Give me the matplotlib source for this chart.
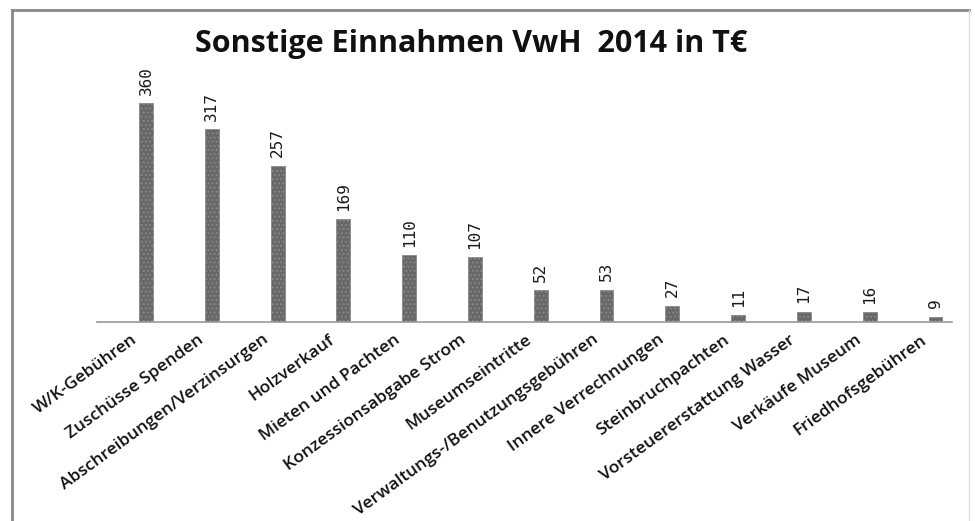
import matplotlib
matplotlib.use("Agg")
import matplotlib.pyplot as plt
from matplotlib.lines import Line2D
import matplotlib.transforms as mtransforms

categories = ["W/K-Gebühren", "Zuschüsse Spenden", "Abschreibungen/Verzinsurgen",
              "Holzverkauf", "Mieten und Pachten", "Konzessionsabgabe Strom",
              "Museumseintritte", "Verwaltungs-/Benutzungsgebühren",
              "Innere Verrechnungen", "Steinbruchpachten",
              "Vorsteuererstattung Wasser", "Verkäufe Museum", "Friedhofsgebühren"]
values = [360, 317, 257, 169, 110, 107, 52, 53, 27, 11, 17, 16, 9]
value_labels = ["360", "317", "257", "169", "110", "107", "52", "53", "27", "11", "17", "16", "9"]
title = "Sonstige Einnahmen VwH  2014 in T€"

plt.rcParams["hatch.color"] = "#8e8e8e"
plt.rcParams["hatch.linewidth"] = 0.8

W, H = 975, 521
fig = plt.figure(figsize=(W / 100, H / 100), dpi=100)
fig.patch.set_facecolor("white")

# frame border
for xs, ys, c, lw in [([12 / W, 12 / W], [0, 1 - 10 / H], "#888888", 2.0),
                      ([12 / W, 969 / W], [1 - 10 / H, 1 - 10 / H], "#888888", 2.0),
                      ([969 / W, 969 / W], [0, 1 - 10 / H], "#dddddd", 1.0)]:
    fig.add_artist(Line2D(xs, ys, color=c, lw=lw, transform=fig.transFigure))

ax = fig.add_axes([97 / W, 1 - 322 / H, (952 - 97) / W, (322 - 70) / H])
x = list(range(len(categories)))
ax.bar(x, values, width=0.21, color="#686868", edgecolor="#8a8a8a", linewidth=0.6,
       hatch="....", zorder=2)
ax.set_xlim(-0.745, 12.25)
ax.set_ylim(0, 414)

for xi, v, lab in zip(x, values, value_labels):
    ax.annotate(lab, (xi, v), xytext=(0, 6), textcoords="offset points",
                rotation=90, ha="center", va="bottom", fontsize=11.5,
                family="DejaVu Sans Mono", color="#1a1a1a")

for s in ["top", "right", "left"]:
    ax.spines[s].set_visible(False)
ax.spines["bottom"].set_color("#9a9a9a")
ax.spines["bottom"].set_linewidth(1.2)
ax.set_yticks([])
ax.set_xticks(x)
ax.set_xticklabels(categories, rotation=36, ha="right", va="top",
                   rotation_mode="anchor", fontsize=12.5, family="Open Sans",
                   fontweight="semibold", color="#111111")
ax.tick_params(axis="x", length=0, pad=7)
offset = mtransforms.ScaledTranslation(-15 / 100, 0, fig.dpi_scale_trans)
for lbl in ax.get_xticklabels():
    lbl.set_transform(lbl.get_transform() + offset)

fig.text(471 / W, 1 - 44 / H, title, ha="center", va="center", fontsize=22,
         fontweight="bold", family="Open Sans", color="#111111")

fig.savefig("out.png", dpi=100, facecolor="white")
